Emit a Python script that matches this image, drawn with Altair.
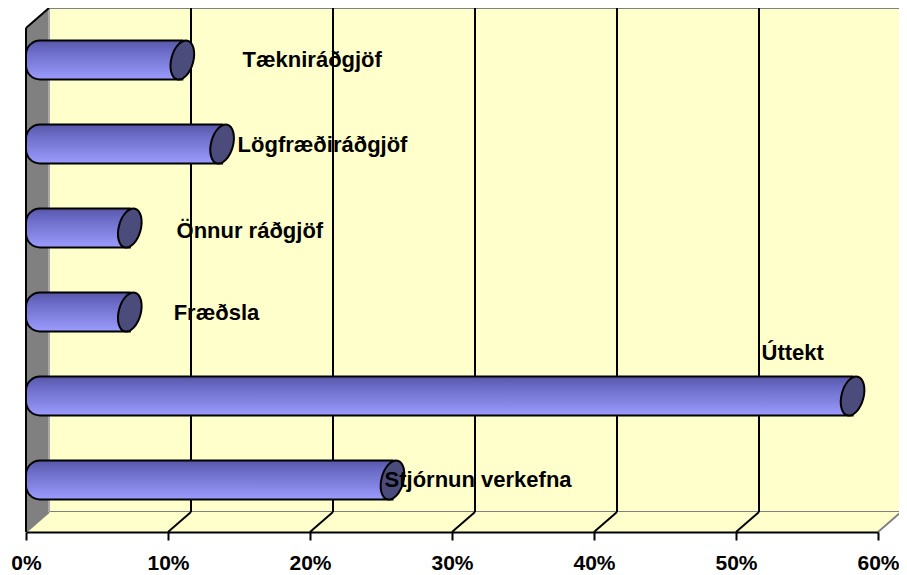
import altair as alt
import pandas as pd

# ---- data ----
categories = ["Tækniráðgjöf", "Lögfræðiráðgjöf", "Önnur ráðgjöf", "Fræðsla", "Úttekt", "Stjórnun verkefna"]
values = [10.2, 13.0, 6.5, 6.5, 57.4, 25.0]          # percent
label_x = [15.25, 14.9, 10.6, 10.4, 51.8, 25.25]     # label anchor (percent axis units)
label_y = [0.381, 1.393, 2.417, 3.393, 3.869, 5.381]  # label anchor (row units)
tick_values = [0, 10, 20, 30, 40, 50, 60]

# ---- layout constants ----
W, H = 852, 504
XMAX, ROWS = 60, 6
PX_PCT = W / XMAX
PX_ROW = H / ROWS
DEPTH_X, DEPTH_Y = 23, 20
dxp = DEPTH_X / PX_PCT
dyr = DEPTH_Y / PX_ROW
BAR_HALF = 19.5 / PX_ROW
FONT = "Liberation Sans"

xs = alt.Scale(domain=[0, XMAX], nice=False, zero=False)
ys = alt.Scale(domain=[0, ROWS], nice=False, zero=False, reverse=True)
xaxis = alt.Axis(values=tick_values, labelExpr="datum.value + '%'", title=None, grid=False,
                 domainColor="black", domainWidth=2, tickColor="black", tickWidth=2, tickSize=8,
                 labelFont=FONT, labelFontSize=21, labelFontWeight="bold", labelColor="black",
                 labelPadding=12, labelOverlap=False, labelFlush=False, zindex=1)


def X(f):
    return alt.X(f, type="quantitative", scale=xs, axis=xaxis)


def Y(f):
    return alt.Y(f, type="quantitative", scale=ys, axis=None)


# ---- 3D frame pieces (built from the axis domain and depth constants) ----
wall = pd.DataFrame({"x": [dxp], "x2": [XMAX + dxp], "y": [-dyr], "y2": [ROWS - dyr]})
back_wall = alt.Chart(wall).mark_rect(fill="#FFFFCC", stroke="#808080", strokeWidth=2).encode(
    x=X("x"), x2="x2", y=Y("y"), y2="y2")

floor_df = pd.DataFrame({"x": [0, dxp, XMAX, XMAX + dxp],
                         "yt": [ROWS, ROWS - dyr, ROWS - dyr, ROWS - dyr],
                         "yb": [ROWS, ROWS, ROWS, ROWS - dyr]})
floor = alt.Chart(floor_df).mark_area(fill="#FFFFCC", orient="vertical").encode(
    x=X("x"), y=Y("yt"), y2="yb")

side_df = pd.DataFrame({"x": [0, dxp], "yt": [0, -dyr], "yb": [ROWS, ROWS - dyr]})
side = alt.Chart(side_df).mark_area(fill="#808080", orient="vertical").encode(
    x=X("x"), y=Y("yt"), y2="yb")

grid_pos = [v for v in tick_values if 0 < v < XMAX]
black_segs = []
for g in grid_pos:
    black_segs.append({"x": g + dxp, "y": -dyr, "x2": g + dxp, "y2": ROWS - dyr})
    black_segs.append({"x": g, "y": ROWS, "x2": g + dxp, "y2": ROWS - dyr})
black_rules = alt.Chart(pd.DataFrame(black_segs)).mark_rule(color="black", strokeWidth=2).encode(
    x=X("x"), x2="x2", y=Y("y"), y2="y2")

gray_segs = pd.DataFrame([
    {"x": XMAX, "y": ROWS, "x2": XMAX + dxp, "y2": ROWS - dyr},
    {"x": 0, "y": ROWS, "x2": dxp, "y2": ROWS - dyr},
])
gray_rules = alt.Chart(gray_segs).mark_rule(color="#808080", strokeWidth=2).encode(
    x=X("x"), x2="x2", y=Y("y"), y2="y2")

joint = pd.DataFrame([{"x": dxp, "y": -dyr, "x2": dxp, "y2": ROWS - dyr}])
joint_rule = alt.Chart(joint).mark_rule(color="#A8A8A8", strokeWidth=2).encode(
    x=X("x"), x2="x2", y=Y("y"), y2="y2")

side_edges = pd.DataFrame([
    {"x": 0, "y": 0, "x2": 0, "y2": ROWS},
    {"x": 0, "y": 0, "x2": dxp, "y2": -dyr},
])
side_rules = alt.Chart(side_edges).mark_rule(color="black", strokeWidth=2).encode(
    x=X("x"), x2="x2", y=Y("y"), y2="y2")

# ---- bars (cylinders) ----
bars_df = pd.DataFrame({"cat": categories, "value": values, "idx": list(range(len(categories)))})
bars_df["zero"] = 0
bars_df["center"] = bars_df["idx"] + 0.5
bars_df["top"] = bars_df["center"] - BAR_HALF
bars_df["bot"] = bars_df["center"] + BAR_HALF

grad = alt.Gradient(gradient="linear", x1=0, x2=0, y1=0, y2=1, stops=[
    alt.GradientStop(color="#5656a6", offset=0),
    alt.GradientStop(color="#6a6ac6", offset=0.25),
    alt.GradientStop(color="#8080de", offset=0.6),
    alt.GradientStop(color="#9c9cff", offset=1),
])

body = alt.Chart(bars_df).mark_bar(
    fill=grad, stroke="black", strokeWidth=2, cornerRadiusTopLeft=14, cornerRadiusBottomLeft=14,
    yOffset=-DEPTH_Y / 2, y2Offset=-DEPTH_Y / 2, x2Offset=DEPTH_X / 2,
).encode(x=X("zero"), x2="value", y=Y("top"), y2="bot")

ellipse = "M0,-1 A0.55,1 0 1,1 0,1 A0.55,1 0 1,1 0,-1 Z"
caps = alt.Chart(bars_df).mark_point(
    shape=ellipse, size=1600, angle=15, filled=True, fill="#4c4c7c", stroke="black",
    strokeWidth=2, opacity=1, strokeOpacity=1, fillOpacity=1,
    xOffset=DEPTH_X / 2, yOffset=-DEPTH_Y / 2,
).encode(x=X("value"), y=Y("center"))

labels_df = pd.DataFrame({"cat": categories, "lx": label_x, "ly": label_y})
labels = alt.Chart(labels_df).mark_text(
    align="left", baseline="middle", font=FONT, fontSize=22, fontWeight="bold", color="black",
).encode(x=X("lx"), y=Y("ly"), text="cat:N")

chart = alt.layer(
    back_wall, floor, black_rules, gray_rules, side, joint_rule, side_rules, body, caps, labels
).properties(
    width=W, height=H,
    autosize=alt.AutoSizeParams(type="none"),
    padding={"left": 18, "top": 20, "right": 21, "bottom": 43},
    background="white",
).configure_view(stroke=None)

chart.save("out.html", embed_options={"renderer": "svg", "actions": False})
